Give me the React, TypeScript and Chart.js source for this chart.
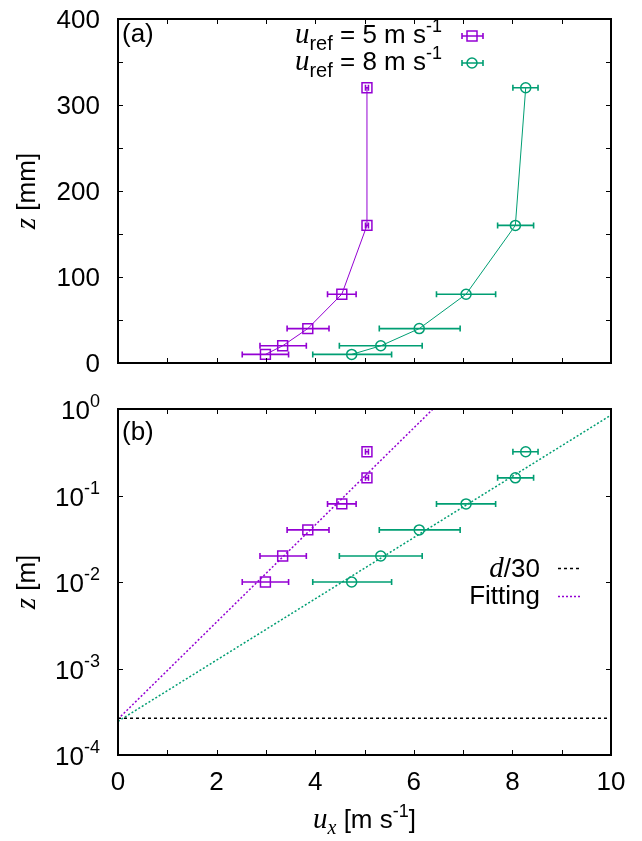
import React, { useEffect, useRef } from 'react';
import { Chart, registerables } from 'chart.js';

Chart.register(...registerables);

// ---------- data ----------
const zMm = [10, 20, 40, 80, 160, 320];
const zM = [0.01, 0.02, 0.04, 0.08, 0.16, 0.32];
const u5 = [2.99, 3.34, 3.85, 4.54, 5.05, 5.05];
const u5Lo = [2.52, 2.88, 3.43, 4.25, 5.02, 5.02];
const u5Hi = [3.46, 3.82, 4.28, 4.83, 5.08, 5.08];
const u8 = [4.74, 5.33, 6.11, 7.06, 8.06, 8.27];
const u8Lo = [3.95, 4.49, 5.3, 6.46, 7.7, 8.01];
const u8Hi = [5.55, 6.17, 6.94, 7.66, 8.43, 8.52];

const fit5U = [0, 6.39];
const fit5Z = [2.6e-4, 1];
const fit8U = [0, 10];
const fit8Z = [2.45e-4, 0.85];
const dLineU = [0, 10];
const dLineZ = [2.667e-4, 2.667e-4];

const xTickValues = [0, 1, 2, 3, 4, 5, 6, 7, 8, 9, 10];
const yTicksA = [0, 50, 100, 150, 200, 250, 300, 350, 400];
const yLabelsA = [0, 100, 200, 300, 400];
const logExponentsB = [-4, -3, -2, -1, 0];

const legendA = ['5', '8'];
const legendB = ['d', 'Fitting'];

// ---------- styles ----------
const PURPLE = '#9400D3';
const GREEN = '#009E73';
const SANS = '26px "Liberation Sans", Arial, sans-serif';
const SANS_SM = '18px "Liberation Sans", Arial, sans-serif';
const SANS_SUB = '20px "Liberation Sans", Arial, sans-serif';
const SERIF_I = 'italic 29px "Liberation Serif", "Times New Roman", serif';
const SERIF_I_SM = 'italic 20px "Liberation Serif", "Times New Roman", serif';

type Seg = { t: string; f: string; dy?: number };

function drawRich(ctx: CanvasRenderingContext2D, segs: Seg[], x: number, y: number, align: 'left' | 'right' | 'center') {
  let w = 0;
  for (const s of segs) {
    ctx.font = s.f;
    w += ctx.measureText(s.t).width;
  }
  let cx = align === 'left' ? x : align === 'right' ? x - w : x - w / 2;
  ctx.textAlign = 'left';
  ctx.textBaseline = 'alphabetic';
  ctx.fillStyle = '#000';
  for (const s of segs) {
    ctx.font = s.f;
    ctx.fillText(s.t, cx, y + (s.dy || 0));
    cx += ctx.measureText(s.t).width;
  }
}

function drawErrorBars(chart: any, zs: number[], lo: number[], hi: number[], color: string) {
  const ctx = chart.ctx as CanvasRenderingContext2D;
  const xs = chart.scales.x;
  const ys = chart.scales.y;
  ctx.save();
  ctx.strokeStyle = color;
  ctx.lineWidth = 1.6;
  for (let i = 0; i < zs.length; i++) {
    const py = ys.getPixelForValue(zs[i]);
    const x1 = xs.getPixelForValue(lo[i]);
    const x2 = xs.getPixelForValue(hi[i]);
    ctx.beginPath();
    ctx.moveTo(x1, py);
    ctx.lineTo(x2, py);
    ctx.moveTo(x1, py - 3);
    ctx.lineTo(x1, py + 3);
    ctx.moveTo(x2, py - 3);
    ctx.lineTo(x2, py + 3);
    ctx.stroke();
  }
  ctx.restore();
}

function drawFrameAndTicks(chart: any, yTickVals: number[]) {
  const ctx = chart.ctx as CanvasRenderingContext2D;
  const a = chart.chartArea;
  const xs = chart.scales.x;
  const ys = chart.scales.y;
  const L = 5;
  ctx.save();
  ctx.strokeStyle = '#000';
  ctx.lineWidth = 1;
  ctx.beginPath();
  for (const v of xTickValues) {
    const px = Math.round(xs.getPixelForValue(v)) + 0.5;
    ctx.moveTo(px, a.bottom);
    ctx.lineTo(px, a.bottom - L);
    ctx.moveTo(px, a.top);
    ctx.lineTo(px, a.top + L);
  }
  for (const v of yTickVals) {
    const py = Math.round(ys.getPixelForValue(v)) + 0.5;
    ctx.moveTo(a.left, py);
    ctx.lineTo(a.left + L, py);
    ctx.moveTo(a.right, py);
    ctx.lineTo(a.right - L, py);
  }
  ctx.stroke();
  ctx.lineWidth = 2;
  ctx.strokeRect(a.left, a.top, a.right - a.left, a.bottom - a.top);
  ctx.restore();
}

function legendMarker(ctx: CanvasRenderingContext2D, x: number, y: number, color: string, style: 'rect' | 'circle') {
  ctx.save();
  ctx.strokeStyle = color;
  ctx.lineWidth = 1.6;
  ctx.beginPath();
  ctx.moveTo(x - 10, y);
  ctx.lineTo(x + 11, y);
  ctx.moveTo(x - 10, y - 3);
  ctx.lineTo(x - 10, y + 3);
  ctx.moveTo(x + 11, y - 3);
  ctx.lineTo(x + 11, y + 3);
  ctx.stroke();
  ctx.lineWidth = 1.5;
  ctx.beginPath();
  if (style === 'rect') ctx.rect(x - 5, y - 5, 10, 10);
  else ctx.arc(x, y, 5, 0, Math.PI * 2);
  ctx.stroke();
  ctx.restore();
}

const pluginA = {
  id: 'panelA',
  afterDatasetsDraw(chart: any) {
    drawErrorBars(chart, zMm, u5Lo, u5Hi, PURPLE);
    drawErrorBars(chart, zMm, u8Lo, u8Hi, GREEN);
  },
  afterDraw(chart: any) {
    const ctx = chart.ctx as CanvasRenderingContext2D;
    const ys = chart.scales.y;
    drawFrameAndTicks(chart, yTicksA);
    const a = chart.chartArea;
    // y tick labels
    for (const v of yLabelsA) {
      const py = ys.getPixelForValue(v);
      drawRich(ctx, [{ t: String(v), f: SANS }], 100, py + 9, 'right');
    }
    drawRich(ctx, [{ t: '(a)', f: SANS }], a.left + 4, 42, 'left');
    // legend
    const rows = [
      { v: legendA[0], y: 36, c: PURPLE, s: 'rect' as const },
      { v: legendA[1], y: 63, c: GREEN, s: 'circle' as const },
    ];
    for (const r of rows) {
      drawRich(
        ctx,
        [
          { t: 'u', f: SERIF_I },
          { t: 'ref', f: SANS_SUB, dy: 7 },
          { t: ' = ' + r.v + ' m s', f: SANS },
          { t: '-1', f: SANS_SM, dy: -11 },
        ],
        442,
        r.y + 7,
        'right'
      );
      legendMarker(ctx, 472, r.y, r.c, r.s);
    }
    // y title
    ctx.save();
    ctx.translate(27, (a.top + a.bottom) / 2);
    ctx.rotate(-Math.PI / 2);
    drawRich(ctx, [{ t: 'z', f: SERIF_I }, { t: ' [mm]', f: SANS }], 0, 8, 'center');
    ctx.restore();
  },
};

const pluginB = {
  id: 'panelB',
  afterDatasetsDraw(chart: any) {
    drawErrorBars(chart, zM, u5Lo, u5Hi, PURPLE);
    drawErrorBars(chart, zM, u8Lo, u8Hi, GREEN);
  },
  afterDraw(chart: any) {
    const ctx = chart.ctx as CanvasRenderingContext2D;
    const ys = chart.scales.y;
    drawFrameAndTicks(chart, logExponentsB.map((e) => Math.pow(10, e)));
    const a = chart.chartArea;
    drawRich(ctx, [{ t: '(b)', f: SANS }], a.left + 4, 60, 'left');
    // log tick labels
    for (const e of logExponentsB) {
      const py = ys.getPixelForValue(Math.pow(10, e));
      drawRich(ctx, [{ t: '10', f: SANS }, { t: String(e), f: SANS_SM, dy: -12 }], 100, py + 10, 'right');
    }
    // legend
    drawRich(ctx, [{ t: legendB[0], f: SERIF_I }, { t: '/30', f: SANS }], 540, 197, 'right');
    drawRich(ctx, [{ t: legendB[1], f: SANS }], 540, 224, 'right');
    ctx.save();
    ctx.lineWidth = 1.5;
    ctx.strokeStyle = '#000';
    ctx.setLineDash([3, 3]);
    ctx.beginPath();
    ctx.moveTo(558, 188.5);
    ctx.lineTo(580, 188.5);
    ctx.stroke();
    ctx.strokeStyle = PURPLE;
    ctx.setLineDash([2, 2]);
    ctx.beginPath();
    ctx.moveTo(558, 216.5);
    ctx.lineTo(580, 216.5);
    ctx.stroke();
    ctx.restore();
    // y title
    ctx.save();
    ctx.translate(27, (a.top + a.bottom) / 2);
    ctx.rotate(-Math.PI / 2);
    drawRich(ctx, [{ t: 'z', f: SERIF_I }, { t: ' [m]', f: SANS }], 0, 8, 'center');
    ctx.restore();
    // x title
    drawRich(
      ctx,
      [
        { t: 'u', f: SERIF_I },
        { t: 'x', f: SERIF_I_SM, dy: 6 },
        { t: ' [m s', f: SANS },
        { t: '-1', f: SANS_SM, dy: -11 },
        { t: ']', f: SANS },
      ],
      (a.left + a.right) / 2,
      448,
      'center'
    );
  },
};

const pts = (xs: number[], ys: number[]) => xs.map((x, i) => ({ x, y: ys[i] }));

export default function App() {
  const refA = useRef<HTMLCanvasElement>(null);
  const refB = useRef<HTMLCanvasElement>(null);

  useEffect(() => {
    const tickFont = { family: '"Liberation Sans", Arial, sans-serif', size: 26 };
    const chartA = new Chart(refA.current as HTMLCanvasElement, {
      type: 'scatter',
      data: {
        datasets: [
          {
            data: pts(u5, zMm),
            showLine: true,
            borderColor: PURPLE,
            borderWidth: 1,
            pointStyle: 'rect',
            pointRadius: 7,
            pointBorderWidth: 1.5,
            pointBorderColor: PURPLE,
            pointBackgroundColor: 'rgba(0,0,0,0)',
          },
          {
            data: pts(u8, zMm),
            showLine: true,
            borderColor: GREEN,
            borderWidth: 1,
            pointStyle: 'circle',
            pointRadius: 5,
            pointBorderWidth: 1.5,
            pointBorderColor: GREEN,
            pointBackgroundColor: 'rgba(0,0,0,0)',
          },
        ],
      },
      options: {
        responsive: false,
        animation: false,
        layout: { padding: { left: 0, right: 31, top: 19, bottom: 0 } },
        plugins: { legend: { display: false }, tooltip: { enabled: false } },
        scales: {
          x: {
            type: 'linear',
            min: 0,
            max: 10,
            grid: { display: false, drawTicks: false },
            border: { display: false },
            ticks: { display: false },
            afterFit: (s: any) => {
              s.height = 17;
            },
          },
          y: {
            type: 'linear',
            min: 0,
            max: 400,
            grid: { display: false, drawTicks: false },
            border: { display: false },
            ticks: { display: false, stepSize: 50 },
            afterFit: (s: any) => {
              s.width = 118;
            },
          },
        },
      },
      plugins: [pluginA],
    } as any);

    const chartB = new Chart(refB.current as HTMLCanvasElement, {
      type: 'scatter',
      data: {
        datasets: [
          {
            data: pts(dLineU, dLineZ),
            showLine: true,
            borderColor: '#000',
            borderWidth: 1.5,
            borderDash: [3, 3],
            pointRadius: 0,
          },
          {
            data: pts(fit5U, fit5Z),
            showLine: true,
            borderColor: PURPLE,
            borderWidth: 1.5,
            borderDash: [2, 2],
            pointRadius: 0,
          },
          {
            data: pts(fit8U, fit8Z),
            showLine: true,
            borderColor: GREEN,
            borderWidth: 1.5,
            borderDash: [2, 2],
            pointRadius: 0,
          },
          {
            data: pts(u5, zM),
            showLine: false,
            pointStyle: 'rect',
            pointRadius: 7,
            pointBorderWidth: 1.5,
            pointBorderColor: PURPLE,
            pointBackgroundColor: 'rgba(0,0,0,0)',
          },
          {
            data: pts(u8, zM),
            showLine: false,
            pointStyle: 'circle',
            pointRadius: 5,
            pointBorderWidth: 1.5,
            pointBorderColor: GREEN,
            pointBackgroundColor: 'rgba(0,0,0,0)',
          },
        ],
      },
      options: {
        responsive: false,
        animation: false,
        layout: { padding: { left: 0, right: 31, top: 29, bottom: 0 } },
        plugins: { legend: { display: false }, tooltip: { enabled: false } },
        scales: {
          x: {
            type: 'linear',
            min: 0,
            max: 10,
            grid: { display: false, drawTicks: false },
            border: { display: false },
            ticks: { stepSize: 2, font: tickFont, color: '#000', padding: 12, autoSkip: false, maxRotation: 0 },
            afterFit: (s: any) => {
              s.height = 86;
            },
          },
          y: {
            type: 'logarithmic',
            min: 1e-4,
            max: 1,
            grid: { display: false, drawTicks: false },
            border: { display: false },
            ticks: { display: false },
            afterFit: (s: any) => {
              s.width = 118;
            },
          },
        },
      },
      plugins: [pluginB],
    } as any);

    return () => {
      chartA.destroy();
      chartB.destroy();
    };
  }, []);

  return (
    <div style={{ position: 'absolute', left: 0, top: 0, width: 642, height: 841, background: '#fff' }}>
      <canvas ref={refA} width={642} height={380} style={{ display: 'block', width: 642, height: 380 }} />
      <canvas ref={refB} width={642} height={461} style={{ display: 'block', width: 642, height: 461 }} />
    </div>
  );
}
